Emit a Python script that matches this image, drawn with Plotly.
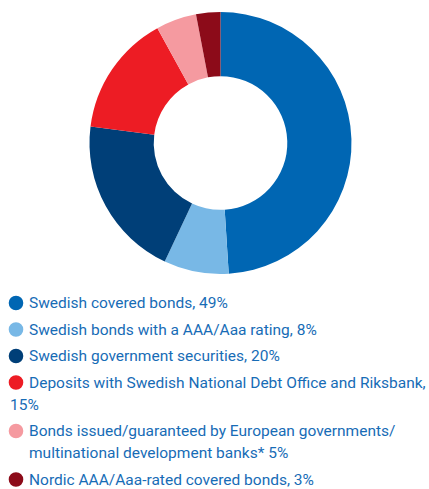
import plotly.graph_objects as go

# Portfolio composition
categories = [
    "Swedish covered bonds",
    "Swedish bonds with a AAA/Aaa rating",
    "Swedish government securities",
    "Deposits with Swedish National Debt Office and Riksbank",
    "Bonds issued/guaranteed by European governments/ multinational development banks*",
    "Nordic AAA/Aaa-rated covered bonds",
]
shares = [49, 8, 20, 15, 5, 3]
colors = ["#0066b3", "#78b8e6", "#003f78", "#ed1c24", "#f59aa0", "#8c0b19"]

# Legend lines for each entry (first line sits beside the dot)
legend_lines = [
    ["Swedish covered bonds, {v}%"],
    ["Swedish bonds with a AAA/Aaa rating, {v}%"],
    ["Swedish government securities, {v}%"],
    ["Deposits with Swedish National Debt Office and Riksbank,", "{v}%"],
    ["Bonds issued/guaranteed by European governments/", "multinational development banks* {v}%"],
    ["Nordic AAA/Aaa-rated covered bonds, {v}%"],
]
# continuation lines: hang under the dot (True) or under the text (False)
hanging = [False, False, False, True, False, False]

W, H = 429, 489
TEXT_COLOR = "#176cb6"
FONT = "Roboto"
FS = 15.5


def px(x):
    return x / W


def py(y):
    return 1 - y / H


fig = go.Figure()

cx, cy, r = 220.5, 143, 131
fig.add_trace(go.Pie(
    labels=categories,
    values=shares,
    marker=dict(colors=colors, line=dict(width=0)),
    hole=0.51,
    sort=False,
    direction="clockwise",
    rotation=0,
    textinfo="none",
    hoverinfo="label+percent",
    showlegend=False,
    domain=dict(x=[px(cx - r), px(cx + r)], y=[py(cy + r), py(cy - r)]),
))

shapes = []
annotations = []
dot_x, dot_r = 16, 7.3
text_x, hang_x = 27, 7.5
y = 303
item_gap, line_gap = 26.5, 22
for i, (lines, v) in enumerate(zip(legend_lines, shares)):
    shapes.append(dict(
        type="circle", xref="paper", yref="paper",
        x0=px(dot_x - dot_r), x1=px(dot_x + dot_r),
        y0=py(y + dot_r), y1=py(y - dot_r),
        fillcolor=colors[i], line=dict(width=0),
    ))
    for j, line in enumerate(lines):
        lx = text_x if j == 0 or not hanging[i] else hang_x
        annotations.append(dict(
            text=line.format(v=v), xref="paper", yref="paper",
            x=px(lx), y=py(y + j * line_gap),
            xanchor="left", yanchor="middle", showarrow=False,
            font=dict(family=FONT, size=FS, color=TEXT_COLOR),
        ))
    y += item_gap + line_gap * (len(lines) - 1)

fig.update_layout(
    width=W, height=H,
    margin=dict(l=0, r=0, t=0, b=0),
    paper_bgcolor="white", plot_bgcolor="white",
    shapes=shapes, annotations=annotations,
    showlegend=False,
)

fig.write_html("out.html")
